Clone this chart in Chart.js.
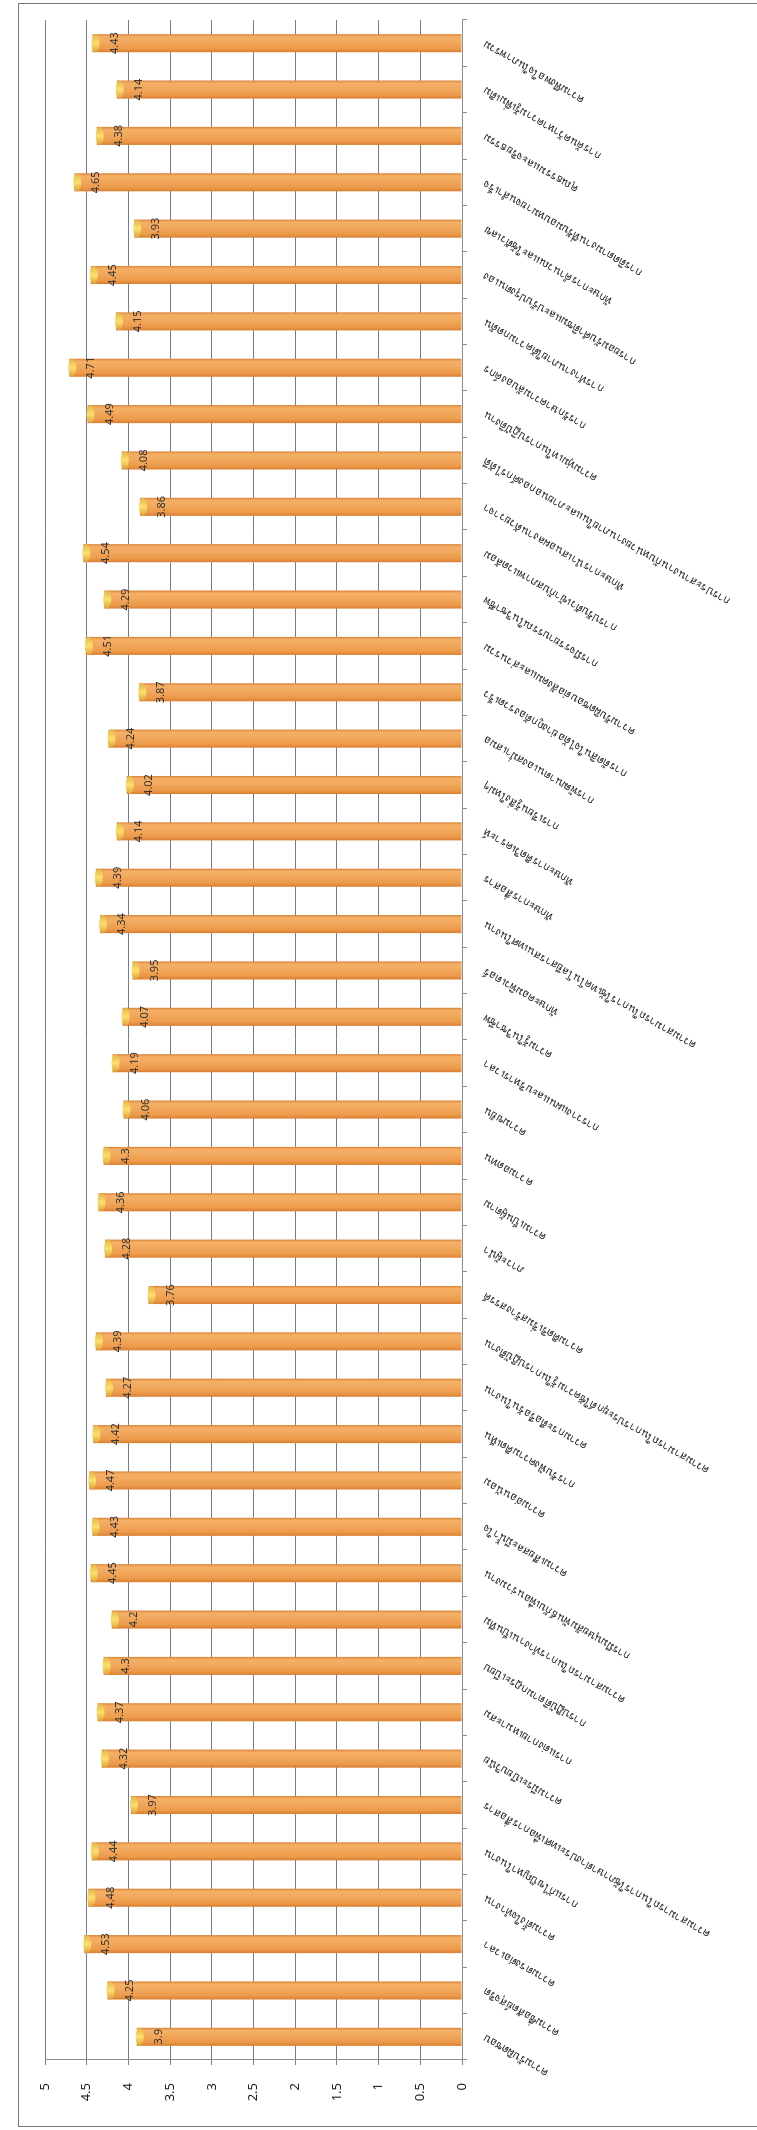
<!DOCTYPE html>
<html lang="th">
  <head>
    <meta charset="UTF-8" />
    <meta name="viewport" content="width=device-width, initial-scale=1.0" />
    <title>ผลการประเมิน</title>
    <style>
      html, body { margin: 0; padding: 0; background: #fff; }
      #page { position: relative; width: 757px; height: 2130px; overflow: hidden; }
      /* chart is drawn landscape, then turned a quarter left like the scan */
      #turn {
        position: absolute; left: 0; top: 0;
        width: 2130px; height: 757px;
        transform-origin: 0 0;
        transform: translate(0, 2130px) rotate(-90deg);
      }
      #box { position: absolute; left: 0; top: 0; width: 2130px; height: 757px; }
    </style>
    <script src="https://cdn.jsdelivr.net/npm/chart.js"></script>
  </head>
  <body>
    <div id="page">
      <div id="turn">
        <div id="box"><canvas id="myChart"></canvas></div>
      </div>
    </div>

    <script>
      const labels = [
        "ความรับผิดชอบ",
        "ความซื่อสัตย์สุจริต",
        "ความตรงต่อเวลา",
        "ความตั้งใจทำงาน",
        "การแก้ไขปัญหาในงาน",
        "ความสามารถในการใช้ภาษาต่างประเทศเพื่อการสื่อสาร",
        "ความมีระเบียบวินัย",
        "การแต่งกายเหมาะสม",
        "การปฏิบัติตามกฎระเบียบ",
        "ความสามารถในการทำงานเป็นทีม",
        "การมีมนุษยสัมพันธ์กับเพื่อนร่วมงาน",
        "ความเสียสละมีน้ำใจ",
        "ความอ่อนน้อม",
        "การรับฟังความคิดเห็น",
        "ความกระตือรือร้นในงาน",
        "ความสามารถในการประยุกต์ใช้ความรู้ในการปฏิบัติงาน",
        "ความคิดริเริ่มสร้างสรรค์",
        "ภาวะผู้นำ",
        "ความเป็นผู้ตาม",
        "ความอดทน",
        "ความขยัน",
        "การวางแผนและบริหารเวลา",
        "ความรู้ในวิชาชีพ",
        "ทักษะคอมพิวเตอร์",
        "ความสามารถในการใช้เทคโนโลยีสารสนเทศในงาน",
        "ทักษะการสื่อสาร",
        "ทักษะการคิดวิเคราะห์",
        "การเรียนรู้สิ่งใหม่ๆ",
        "การพัฒนาตนเองสม่ำเสมอ",
        "การตัดสินใจได้อย่างถูกต้องรวดเร็ว",
        "ความรับผิดชอบต่อสังคมและส่วนรวม",
        "การมีจรรยาบรรณในวิชาชีพ",
        "การปรับตัวเข้ากับสภาพแวดล้อม",
        "ทักษะการนำเสนอผลงานด้วยวาจา",
        "การประสานงานกับหน่วยงานภายในและภายนอกองค์กรได้ดี",
        "ความทุ่มเทในการปฏิบัติงาน",
        "การรักษาความลับองค์กร",
        "การทำงานภายใต้ความกดดัน",
        "การยอมรับคำติชมและปรับปรุงตนเอง",
        "ทักษะการคำนวณและใช้ตัวเลข",
        "การติดตามงานที่รับมอบหมายจนสำเร็จ",
        "คุณธรรมและจริยธรรม",
        "การค้นคว้าหาความรู้เพิ่มเติม",
        "ความพึงพอใจในภาพรวม"
      ];

      const values = [
        3.9, 4.25, 4.53, 4.48, 4.44, 3.97, 4.32, 4.37, 4.3, 4.2, 4.45,
        4.43, 4.47, 4.42, 4.27, 4.39, 3.76, 4.28, 4.36, 4.3, 4.06, 4.19,
        4.07, 3.95, 4.34, 4.39, 4.14, 4.02, 4.24, 3.87, 4.51, 4.29, 4.54,
        3.86, 4.08, 4.49, 4.71, 4.15, 4.45, 3.93, 4.65, 4.38, 4.14, 4.43
      ];

      const yTickLabels = ["0", "0.5", "1", "1.5", "2", "2.5", "3", "3.5", "4", "4.5", "5"];

      const FONT = '"Noto Sans", "DejaVu Sans", sans-serif';
      const BAR_FRAC = 0.39;

      // orange tube look, shaded across each bar
      function barFill(c) {
        const chart = c.chart;
        const xs = chart.scales && chart.scales.x;
        if (c.type !== "data" || !xs || !chart.chartArea) return "#ef9f50";
        const cx = xs.getPixelForValue(c.dataIndex);
        const w = (xs.width / labels.length) * BAR_FRAC;
        const g = chart.ctx.createLinearGradient(cx - w / 2, 0, cx + w / 2, 0);
        g.addColorStop(0, "#d97f33");
        g.addColorStop(0.2, "#ec9a4a");
        g.addColorStop(0.6, "#f2aa5f");
        g.addColorStop(0.85, "#f4b066");
        g.addColorStop(1, "#d9843a");
        return g;
      }

      // outer border of the chart box (only three sides show on the page)
      const chartFrame = {
        id: "chartFrame",
        beforeDraw(chart) {
          const ctx = chart.ctx;
          ctx.save();
          ctx.strokeStyle = "#7a7a7a";
          ctx.lineWidth = 1;
          ctx.strokeRect(3.5, 18.5, chart.width - 7, chart.height + 20);
          ctx.restore();
        }
      };

      // yellow end cap + value text inside the end of each bar
      const barDecor = {
        id: "barDecor",
        afterDatasetsDraw(chart) {
          const ctx = chart.ctx;
          const meta = chart.getDatasetMeta(0);
          meta.data.forEach((bar, i) => {
            const w = bar.width;
            const x0 = bar.x - w / 2;
            const g = ctx.createLinearGradient(x0, 0, x0 + w, 0);
            g.addColorStop(0, "#e0a232");
            g.addColorStop(0.5, "#fbe070");
            g.addColorStop(1, "#e6b440");
            ctx.save();
            ctx.fillStyle = g;
            ctx.beginPath();
            ctx.ellipse(bar.x, bar.y + 3, w / 2, 4, 0, 0, Math.PI * 2);
            ctx.fill();
            ctx.fillStyle = "#333";
            ctx.font = "11px " + FONT;
            ctx.textAlign = "center";
            ctx.textBaseline = "middle";
            ctx.fillText(String(values[i]), bar.x, bar.y + 22);
            ctx.restore();
          });
        }
      };

      const ctx = document.getElementById("myChart");

      new Chart(ctx, {
        type: "bar",
        data: {
          labels: labels,
          datasets: [
            {
              data: values,
              backgroundColor: barFill,
              borderWidth: 0,
              barPercentage: BAR_FRAC,
              categoryPercentage: 1
            }
          ]
        },
        options: {
          responsive: true,
          maintainAspectRatio: false,
          animation: false,
          layout: { padding: { left: 0, right: 20, top: 45, bottom: 0 } },
          plugins: {
            legend: { display: false },
            tooltip: { enabled: false }
          },
          scales: {
            x: {
              grid: { drawOnChartArea: false, tickLength: 5, color: "#8c8c8c", offset: true },
              border: { color: "#8c8c8c" },
              ticks: {
                autoSkip: false,
                minRotation: 60,
                maxRotation: 60,
                padding: 14,
                color: "#222",
                font: { family: FONT, size: 11 }
              },
              afterFit(s) { s.height = 295; }
            },
            y: {
              min: 0,
              max: 5,
              ticks: {
                stepSize: 0.5,
                padding: 18,
                color: "#222",
                font: { family: FONT, size: 13 },
                callback: (v, i) => yTickLabels[i]
              },
              grid: { color: "#767b94", tickLength: 5 },
              border: { color: "#8c8c8c" },
              afterFit(s) { s.width = 70; }
            }
          }
        },
        plugins: [chartFrame, barDecor]
      });
    </script>
  </body>
</html>
